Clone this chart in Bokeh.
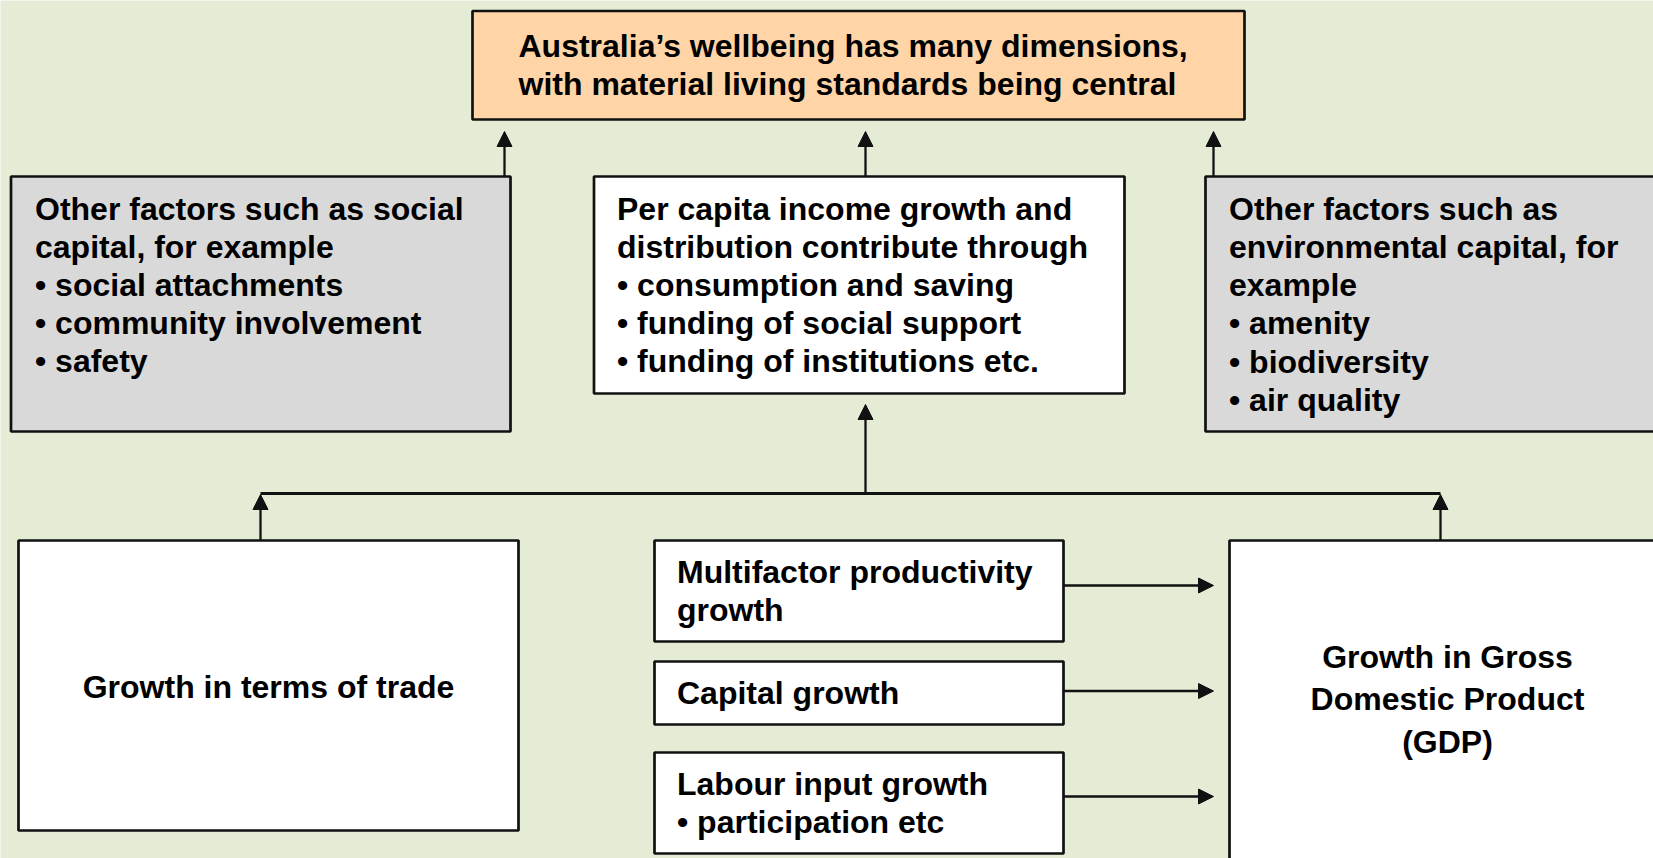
from bokeh.plotting import figure
from bokeh.models import ColumnDataSource, Range1d, Arrow, NormalHead
from bokeh.core.properties import value
from bokeh.embed import file_html
from bokeh.resources import INLINE

# ---- content ----
top_lines = ["Australia\u2019s wellbeing has many dimensions,",
             "with material living standards being central"]
social_lines = ["Other factors such as social", "capital, for example",
                "\u2022 social attachments", "\u2022 community involvement", "\u2022 safety"]
income_lines = ["Per capita income growth and", "distribution contribute through",
                "\u2022 consumption and saving", "\u2022 funding of social support",
                "\u2022 funding of institutions etc."]
env_lines = ["Other factors such as", "environmental capital, for", "example",
             "\u2022 amenity", "\u2022 biodiversity", "\u2022 air quality"]
tot_lines = ["Growth in terms of trade"]
mfp_lines = ["Multifactor productivity", "growth"]
cap_lines = ["Capital growth"]
lab_lines = ["Labour input growth", "\u2022 participation etc"]
gdp_lines = ["Growth in Gross", "Domestic Product", "(GDP)"]

# ---- layout (pixel geometry of the diagram) ----
BG = "#E4ECD6"
boxes = [
    # left, right, top, bottom, fill
    (472, 1244, 10.5, 119, "#FFD5A8"),
    (10.5, 510, 176, 431, "#D9D9D9"),
    (593.5, 1124, 176, 393, "#FFFFFF"),
    (1205, 1700, 176, 431, "#D9D9D9"),
    (18, 518, 540, 830, "#FFFFFF"),
    (654, 1063, 540, 641, "#FFFFFF"),
    (654, 1063, 661, 724, "#FFFFFF"),
    (654, 1063, 752, 853, "#FFFFFF"),
    (1229, 1700, 540, 900, "#FFFFFF"),
]
# text blocks: lines, x, first-line y, line step, align
blocks = [
    (top_lines, 518, 45.5, 38, "left"),
    (social_lines, 34.5, 208, 38.2, "left"),
    (income_lines, 616.5, 208, 38.2, "left"),
    (env_lines, 1228.5, 208, 38.3, "left"),
    (tot_lines, 268, 686, 38, "center"),
    (mfp_lines, 676.5, 571.5, 38, "left"),
    (cap_lines, 676.5, 692.5, 38, "left"),
    (lab_lines, 676.5, 783.5, 38, "left"),
    (gdp_lines, 1447, 656, 42.7, "center"),
]
arrows = [
    # x_start, y_start, x_end, y_end
    (504, 176, 504, 131),
    (865, 176, 865, 131),
    (1213, 176, 1213, 131),
    (865, 493, 865, 404),
    (260, 540, 260, 494),
    (1440, 540, 1440, 494),
    (1063, 585, 1213, 585),
    (1063, 690.5, 1213, 690.5),
    (1063, 796, 1213, 796),
]
hline = (260, 1440, 493)

W, H = 1653, 858
p = figure(width=W, height=H, x_range=Range1d(0, W), y_range=Range1d(H, 0),
           output_backend="svg", toolbar_location=None, min_border=0)
p.axis.visible = False
p.grid.visible = False
p.outline_line_color = None
p.background_fill_color = BG
p.border_fill_color = BG

bsrc = ColumnDataSource(dict(
    left=[b[0] for b in boxes], right=[b[1] for b in boxes],
    top=[b[2] for b in boxes], bottom=[b[3] for b in boxes],
    fill=[b[4] for b in boxes]))
p.quad(left="left", right="right", top="top", bottom="bottom", source=bsrc,
       fill_color="fill", line_color="#111111", line_width=2.7)

p.segment(x0=[hline[0]], y0=[hline[2]], x1=[hline[1]], y1=[hline[2]],
          line_color="#111111", line_width=3)

for xs, ys, xe, ye in arrows:
    p.add_layout(Arrow(x_start=xs, y_start=ys, x_end=xe, y_end=ye,
                       line_color="#111111", line_width=2.3,
                       end=NormalHead(size=15, fill_color="#111111", line_color="#111111",
                                      line_width=1)))

tx, ty, tt, ta = [], [], [], []
for lines, x0, y0, step, align in blocks:
    for i, s in enumerate(lines):
        tx.append(x0)
        ty.append(y0 + i * step)
        tt.append(s)
        ta.append(align)
tsrc = ColumnDataSource(dict(x=tx, y=ty, text=tt, align=ta))
p.text(x="x", y="y", text="text", source=tsrc, text_align="align",
       text_baseline="middle", text_font=value("Liberation Sans"),
       text_font_style="bold", text_font_size="32px", text_color="#000000")

open("out.html", "w").write(file_html(p, INLINE))
